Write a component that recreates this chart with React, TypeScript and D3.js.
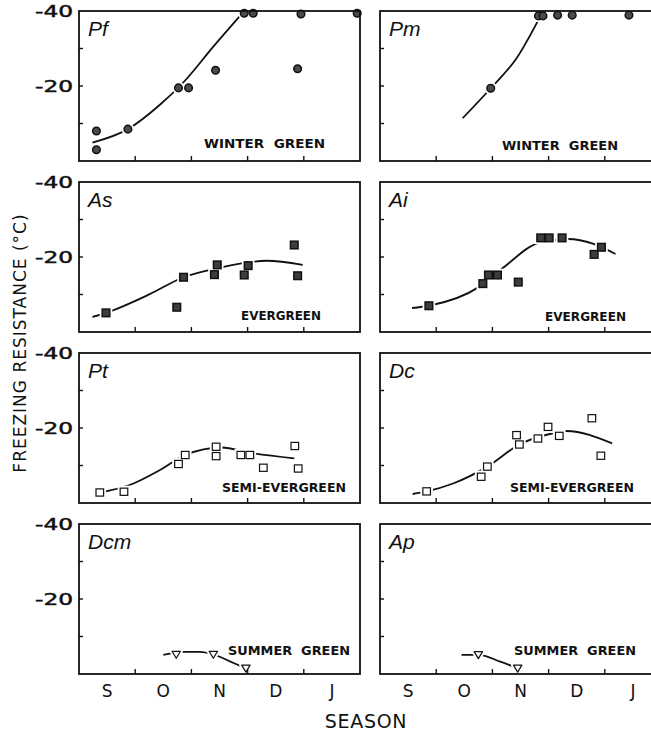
import React from "react";
import * as d3 from "d3";

// month initials along the season axis (x unit = months since 1 Sep)
const months = ["S", "O", "N", "D", "J"];
const yLabelTicks = [-40, -20];
const yMinorTicks = [-30, -20, -10];

const species = ["Pf", "Pm", "As", "Ai", "Pt", "Dc", "Dcm", "Ap"];
const habits = [
  "WINTER  GREEN", "WINTER  GREEN",
  "EVERGREEN", "EVERGREEN",
  "SEMI-EVERGREEN", "SEMI-EVERGREEN",
  "SUMMER  GREEN", "SUMMER  GREEN",
];
const markerKinds = ["dot", "dot", "fsq", "fsq", "osq", "osq", "tri", "tri"];

// measured points [month, °C]
const pfPoints = [[0.31, -8], [0.31, -3], [0.87, -8.5], [1.77, -19.5], [1.95, -19.5], [2.43, -24.2], [2.94, -39.4], [3.1, -39.4], [3.89, -24.6], [3.95, -39.2], [4.95, -39.4]];
const pmPoints = [[1.97, -19.4], [2.82, -38.7], [2.9, -38.7], [3.16, -38.9], [3.42, -38.9], [4.43, -38.9]];
const asPoints = [[0.48, -5.1], [1.74, -6.6], [1.86, -14.6], [2.41, -15.3], [2.46, -17.9], [2.94, -15.2], [3.01, -17.7], [3.83, -23.2], [3.89, -15.0]];
const aiPoints = [[0.87, -7.0], [1.83, -12.9], [1.93, -15.2], [2.09, -15.2], [2.46, -13.3], [2.86, -25.1], [3.01, -25.1], [3.24, -25.1], [3.81, -20.7], [3.94, -22.6]];
const ptPoints = [[0.37, -2.8], [0.8, -3.0], [1.77, -10.4], [1.89, -12.8], [2.44, -15.0], [2.44, -12.5], [2.88, -12.8], [3.04, -12.8], [3.28, -9.4], [3.84, -15.2], [3.9, -9.2]];
const dcPoints = [[0.83, -3.1], [1.8, -7.0], [1.91, -9.7], [2.43, -18.1], [2.48, -15.6], [2.81, -17.2], [2.99, -20.3], [3.19, -17.9], [3.77, -22.6], [3.93, -12.6]];
const dcmPoints = [[1.73, -5.2], [2.39, -5.2], [2.97, -1.5]];
const apPoints = [[1.75, -5.1], [2.45, -1.5]];

// hand-drawn trend curves
const pfCurve = [[0.24, -4.9], [0.87, -8.5], [1.44, -15.0], [1.86, -21], [2.39, -30.5], [2.9, -39.3]];
const pmCurve = [[1.47, -11.4], [1.97, -19.4], [2.43, -27.4], [2.85, -38.5]];
const asCurve = [[0.24, -4.0], [0.48, -5.1], [1.26, -10.1], [1.86, -14.6], [2.46, -17.0], [3.34, -19.0], [3.98, -17.9]];
const aiCurve = [[0.57, -6.4], [0.87, -7.0], [1.75, -11.9], [2.18, -17.0], [2.83, -23.8], [3.35, -24.8], [3.8, -23.5], [4.19, -20.8]];
const ptCurve = [[0.37, -2.8], [0.9, -4.8], [1.44, -8.8], [1.89, -12.8], [2.54, -14.8], [3.04, -13.4], [3.83, -11.9]];
const dcCurve = [[0.58, -2.4], [0.83, -3.1], [1.3, -5.2], [1.91, -9.7], [2.48, -15.6], [3.02, -18.4], [3.32, -19.2], [4.13, -15.9]];
const dcmCurve = [[1.5, -5.1], [1.86, -5.9], [2.15, -5.9], [2.39, -5.2], [2.74, -3.0], [2.97, -1.5]];
const apCurve = [[1.45, -5.1], [1.75, -5.1], [2.14, -3.3], [2.45, -1.5]];

const allPoints = [pfPoints, pmPoints, asPoints, aiPoints, ptPoints, dcPoints, dcmPoints, apPoints];
const allCurves = [pfCurve, pmCurve, asCurve, aiCurve, ptCurve, dcCurve, dcmCurve, apCurve];

// label placement (left x, baseline offset from panel top, width)
const habitPos = [
  [125, 137, 121], [122, 139, 116],
  [162, 138, 80], [165, 139, 81],
  [143, 139, 124], [130, 139, 124],
  [149, 131, 122], [134, 131, 122],
];

const W = 651, H = 732;
const colX = [79, 380];
const rowY = [11, 182, 353, 524];
const pw = 281, ph = 150;
const font = "DejaVu Sans";

function markerShape(kind: string, cx: number, cy: number, halo: boolean) {
  const stroke = halo ? "#fff" : "#111";
  const sw = halo ? 5 : kind === "dot" || kind === "fsq" ? 1.5 : 1.2;
  if (kind === "dot")
    return <circle cx={cx} cy={cy} r={3.8} fill={halo ? "#fff" : "#4a4a4a"} stroke={stroke} strokeWidth={sw} />;
  if (kind === "fsq")
    return <rect x={cx - 3.8} y={cy - 3.8} width={7.6} height={7.6} fill={halo ? "#fff" : "#3c3c3c"} stroke={stroke} strokeWidth={sw} />;
  if (kind === "osq")
    return <rect x={cx - 3.8} y={cy - 3.6} width={7.6} height={7.2} fill="#fff" stroke={stroke} strokeWidth={sw} />;
  return (
    <path d={`M${cx - 4.2},${cy - 3.2}L${cx + 4.2},${cy - 3.2}L${cx},${cy + 3.8}Z`} fill="#fff" stroke={stroke} strokeWidth={sw} strokeLinejoin="round" />
  );
}

function Panel({ i }: { i: number }) {
  const col = i % 2, row = Math.floor(i / 2);
  const x0 = colX[col], y0 = rowY[row];
  const x = d3.scaleLinear().domain([0, 5]).range([x0, x0 + pw]);
  const y = d3.scaleLinear().domain([0, -40]).range([y0 + ph, y0]);
  const line = d3.line<number[]>().x(d => x(d[0])).y(d => y(d[1])).curve(d3.curveMonotoneX);
  const hp = habitPos[i];
  const pts = allPoints[i];
  return (
    <g>
      <path d={line(allCurves[i]) || ""} fill="none" stroke="#111" strokeWidth={1.8} />
      {pts.map((p, k) => <g key={"h" + k}>{markerShape(markerKinds[i], x(p[0]), y(p[1]), true)}</g>)}
      {pts.map((p, k) => <g key={"m" + k}>{markerShape(markerKinds[i], x(p[0]), y(p[1]), false)}</g>)}
      <rect x={x0} y={y0} width={pw} height={ph} fill="none" stroke="#111" strokeWidth={1.8} />
      {yMinorTicks.map(t => (
        <line key={t} x1={x0} x2={x0 + 4} y1={y(t)} y2={y(t)} stroke="#111" strokeWidth={1.4} />
      ))}
      {d3.range(1, 5).map(m => (
        <line key={m} x1={x(m)} x2={x(m)} y1={y0 + ph} y2={y0 + ph - 5} stroke="#111" strokeWidth={1.4} />
      ))}
      {col === 0 && yLabelTicks.map(t => (
        <text key={t} x={x0 - 44} y={y(t)} dy="0.36em" fontFamily={font} fontSize={16}
          textLength={38} lengthAdjust="spacingAndGlyphs" fill="#111" stroke="#111" strokeWidth={0.5}>{String(t)}</text>
      ))}
      <text x={x0 + 9} y={y0 + 25} fontFamily="Liberation Sans" fontStyle="italic" fontSize={21} fill="#111">
        {species[i]}
      </text>
      <text x={x0 + hp[0]} y={y0 + hp[1]} fontFamily={font} fontWeight="bold" fontSize={i >= 4 && i < 6 ? 11.5 : 12.5}
        textLength={hp[2]} lengthAdjust="spacingAndGlyphs" fill="#111" style={{ whiteSpace: "pre" }}>
        {habits[i]}
      </text>
      {row === 3 && months.map((m, k) => (
        <text key={m} x={x(k + 0.5)} y={697} textAnchor="middle" fontFamily={font} fontSize={17} fill="#111">{m}</text>
      ))}
    </g>
  );
}

export default function App() {
  return (
    <svg width={W} height={H} style={{ position: "absolute", left: 0, top: 0, background: "#fff" }}>
      <rect width={W} height={H} fill="#fff" />
      {species.map((s, i) => <Panel key={s} i={i} />)}
      <text transform="translate(26,343) rotate(-90)" textAnchor="middle" fontFamily={font} fontSize={17}
        letterSpacing={1} fill="#111">FREEZING RESISTANCE (°C)</text>
      <text x={366} y={728} textAnchor="middle" fontFamily={font} fontSize={19} letterSpacing={0.7} fill="#111">SEASON</text>
    </svg>
  );
}
